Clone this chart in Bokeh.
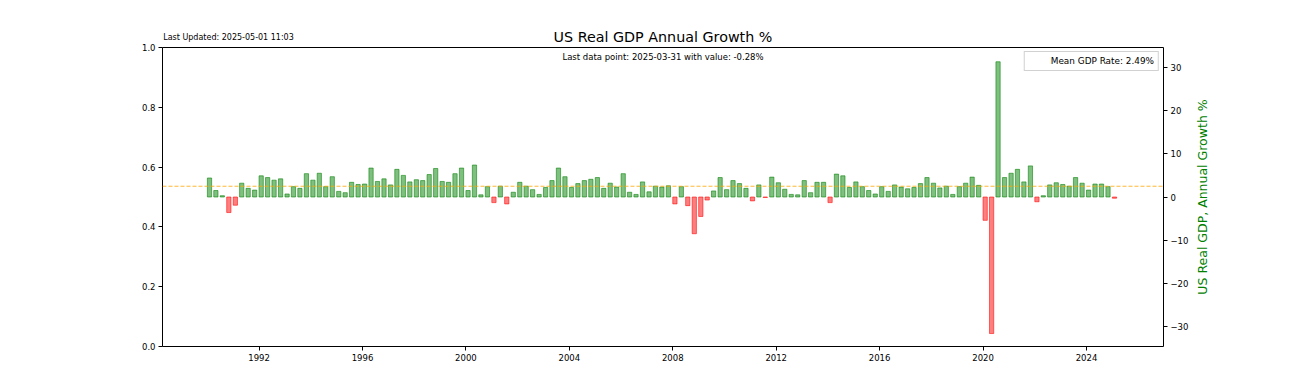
import pandas as pd
from bokeh.plotting import figure
from bokeh.layouts import row
from bokeh.models import (Range1d, LinearAxis, FixedTicker, DatetimeTickFormatter, Span,
                          Label, Legend, LegendItem, ColumnDataSource, NumeralTickFormatter)
from bokeh.embed import file_html
from bokeh.resources import INLINE

# ---------------- data ----------------
quarter_start = pd.date_range("1990-01-01", "2025-01-01", freq="QS")
gdp_growth = [
    4.4, 1.5, 0.3, -3.6,      # 1990
    -1.9, 3.2, 2.0, 1.6,      # 1991
    4.9, 4.5, 3.9, 4.2,       # 1992
    0.7, 2.4, 2.0, 5.4,       # 1993
    3.9, 5.5, 2.4, 4.7,       # 1994
    1.3, 1.0, 3.4, 2.9,       # 1995
    3.0, 6.7, 3.6, 4.2,       # 1996
    2.8, 6.4, 5.0, 3.5,       # 1997
    4.0, 3.8, 5.2, 6.6,       # 1998
    3.6, 3.4, 5.4, 6.7,       # 1999
    1.5, 7.4, 0.5, 2.4,       # 2000
    -1.3, 2.5, -1.6, 1.1,     # 2001
    3.4, 2.5, 1.7, 0.6,       # 2002
    2.2, 3.8, 6.7, 4.7,       # 2003
    2.2, 3.1, 3.8, 4.1,       # 2004
    4.5, 2.0, 3.2, 2.3,       # 2005
    5.4, 1.1, 0.6, 3.5,       # 2006
    1.2, 2.5, 2.3, 2.6,       # 2007
    -1.6, 2.4, -2.0, -8.5,    # 2008
    -4.5, -0.7, 1.4, 4.5,     # 2009
    1.7, 3.8, 3.1, 2.0,       # 2010
    -0.9, 2.8, -0.1, 4.6,     # 2011
    3.3, 1.8, 0.6, 0.5,       # 2012
    3.8, 1.0, 3.4, 3.4,       # 2013
    -1.3, 5.3, 4.9, 2.2,      # 2014
    3.5, 2.4, 1.5, 0.7,       # 2015
    2.4, 1.3, 2.8, 2.3,       # 2016
    1.9, 2.2, 3.1, 4.5,       # 2017
    3.2, 2.1, 2.5, 0.6,       # 2018
    2.4, 3.2, 4.6, 2.7,       # 2019
    -5.4, -31.6, 31.3, 4.5,   # 2020
    5.5, 6.4, 3.5, 7.2,       # 2021
    -1.1, 0.3, 2.8, 3.3,      # 2022
    2.9, 2.5, 4.5, 3.2,       # 2023
    1.6, 3.0, 3.0, 2.4,       # 2024
    -0.28,                    # 2025
]
mean_rate = 2.49
left_ticks = [0.0, 0.2, 0.4, 0.6, 0.8, 1.0]
right_ticks = [-30, -20, -10, 0, 10, 20, 30]
year_ticks = [1992, 1996, 2000, 2004, 2008, 2012, 2016, 2020, 2024]
title_text = "US Real GDP Annual Growth %"
subtitle_text = "Last data point: 2025-03-31 with value: -0.28%"
updated_text = "Last Updated: 2025-05-01 11:03"
right_label_text = "US Real GDP, Annual Growth %"
legend_text = "Mean GDP Rate: 2.49%"

FONT = "DejaVu Sans"

def ms(ts):
    return pd.Timestamp(ts).value / 1e6

DAY = 86400000
bar_x = [ms(d) + 30 * DAY for d in quarter_start]
bar_colors = ["#008000" if v >= 0 else "#ff0000" for v in gdp_growth]
src = ColumnDataSource(dict(x=bar_x, top=gdp_growth, color=bar_colors))

x_start = ms("1988-04-07")
x_end = ms("2026-12-24")
FRAME_L = 162
FRAME_W = 1001
BORDER_R = 28
TOP, BOTTOM, H = 47, 42, 388
px_ms = (x_end - x_start) / FRAME_W

p = figure(width=FRAME_L + FRAME_W + BORDER_R, height=H, output_backend="svg",
           toolbar_location=None, title_location=None,
           x_axis_type="datetime", x_range=Range1d(x_start, x_end),
           y_range=Range1d(0, 1), min_border_left=FRAME_L, min_border_right=BORDER_R,
           min_border_top=TOP, min_border_bottom=BOTTOM)
p.extra_y_ranges = {"gdp": Range1d(-34.6, 34.6)}
p.background_fill_color = "white"
p.border_fill_color = "white"
p.outline_line_color = "black"
p.outline_line_width = 1
p.xgrid.visible = False
p.ygrid.visible = False

p.vbar(x="x", width=60 * DAY, top="top", bottom=0, source=src,
       fill_color="color", fill_alpha=0.5, line_color="color", line_alpha=0.8,
       line_width=0.7, y_range_name="gdp")

mean_span = Span(location=mean_rate, dimension="width", line_color="orange",
                 line_dash="4 2", line_width=1, line_alpha=0.8, y_range_name="gdp")
p.add_layout(mean_span)
legend_r = p.line(x=[], y=[], line_color="orange", line_dash="4 2", line_width=1,
                  line_alpha=0.8, y_range_name="gdp")

# axes
def style_axis(ax):
    ax.axis_line_color = None
    ax.major_tick_line_color = "black"
    ax.major_tick_out = 4
    ax.major_tick_in = 0
    ax.minor_tick_line_color = None
    ax.major_label_text_font = FONT
    ax.major_label_text_font_size = "8.5px"
    ax.major_label_text_color = "black"
    ax.major_label_standoff = 3

xa = p.xaxis[0]
xa.ticker = FixedTicker(ticks=[ms(f"{y}-01-01") for y in year_ticks])
xa.formatter = DatetimeTickFormatter(years="%Y", months="%Y", days="%Y", hours="%Y")
style_axis(xa)

ya = p.yaxis[0]
ya.ticker = FixedTicker(ticks=left_ticks)
ya.formatter = NumeralTickFormatter(format="0.0")
style_axis(ya)

ra = LinearAxis(y_range_name="gdp", ticker=FixedTicker(ticks=right_ticks),
                major_label_overrides={t: (str(t).replace("-", "\u2212")) for t in right_ticks})
style_axis(ra)
p.add_layout(ra, "right")

# top axis used to carry the "Last Updated" note and the main title
note_tick = int(round(x_start + 66 * px_ms))
ta = LinearAxis(ticker=FixedTicker(ticks=[note_tick]),
                major_label_overrides={note_tick: updated_text})
ta.axis_line_color = None
ta.major_tick_line_color = None
ta.major_tick_out = 0
ta.major_tick_in = 0
ta.minor_tick_line_color = None
ta.major_label_text_font = FONT
ta.major_label_text_font_size = "8px"
ta.major_label_text_color = "black"
ta.major_label_standoff = 6
ta.axis_label = title_text
ta.axis_label_text_font = FONT
ta.axis_label_text_font_size = "14.3px"
ta.axis_label_text_font_style = "normal"
ta.axis_label_text_color = "black"
ta.axis_label_standoff = -15
p.add_layout(ta, "above")

x_mid = (x_start + x_end) / 2
p.add_layout(Label(x=x_mid, y=1, y_offset=-9, text=subtitle_text, text_align="center",
                   text_baseline="middle", text_font=FONT, text_font_size="8.5px",
                   text_color="black"))

legend = Legend(items=[LegendItem(label=legend_text, renderers=[legend_r])],
                location="top_right", margin=4, padding=4, spacing=0,
                label_text_font=FONT, label_text_font_size="8.9px",
                label_text_color="black",
                label_height=8, glyph_height=8, glyph_width=16, label_standoff=6,
                border_line_color="#cccccc", border_line_alpha=0.9,
                background_fill_alpha=0.8)
p.add_layout(legend)

# narrow companion panel carrying the right-hand scale title (reads bottom-to-top)
p2 = figure(width=40, height=H, output_backend="svg", toolbar_location=None,
            title_location=None, x_range=Range1d(0, 1), y_range=Range1d(-34.6, 34.6),
            min_border_left=11, min_border_right=0, min_border_top=TOP,
            min_border_bottom=BOTTOM)
p2.outline_line_color = None
p2.background_fill_color = "white"
p2.border_fill_color = "white"
p2.xgrid.visible = False
p2.ygrid.visible = False
p2.xaxis.visible = False
la = p2.yaxis[0]
la.ticker = FixedTicker(ticks=[])
la.axis_line_color = None
la.major_tick_line_color = None
la.minor_tick_line_color = None
la.major_tick_out = 0
la.major_label_standoff = 0
la.axis_label = right_label_text
la.axis_label_text_font = FONT
la.axis_label_text_font_size = "12.5px"
la.axis_label_text_font_style = "normal"
la.axis_label_text_color = "#008000"
la.axis_label_standoff = 0

layout = row(p, p2)
open("out.html", "w").write(file_html(layout, INLINE))
